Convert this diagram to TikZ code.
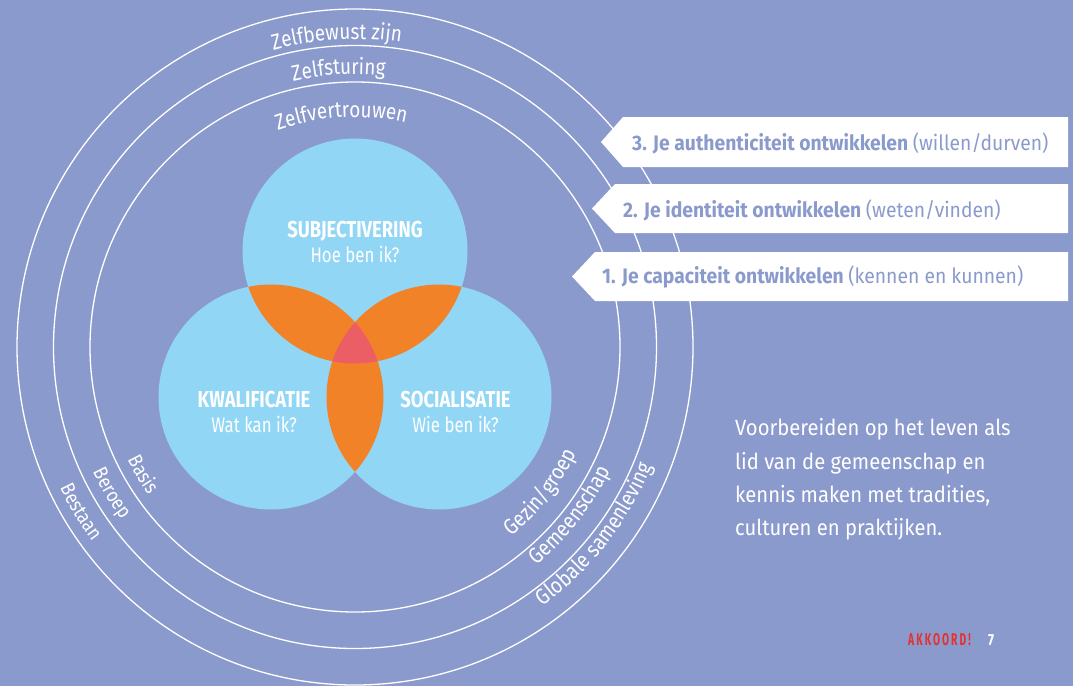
\documentclass[tikz,border=0pt]{standalone}
\usepackage{fontspec}
\setmainfont{Fira Sans}
\newfontfamily\cond{Fira Sans}[FakeStretch=0.8]
\newfontfamily\wide{Fira Sans}[FakeStretch=0.92]
\newfontfamily\arcf{Fira Sans}[FakeStretch=0.86]
\newfontfamily\akkf{Fira Sans}[FakeStretch=0.6]
\usetikzlibrary{decorations.text,calc}
\definecolor{bg}{HTML}{8B9ACC}
\definecolor{venn}{HTML}{92D6F5}
\definecolor{orng}{HTML}{F28228}
\definecolor{midred}{HTML}{EC5E66}
\definecolor{akk}{HTML}{E4302F}
\tikzset{
  ring/.style={draw=white, line width=1.3pt},
  vhead/.style={text=white, inner sep=0pt, anchor=base, font=\cond\bfseries\fontsize{23}{27}\selectfont},
  vsub/.style={text=white, inner sep=0pt, anchor=base, font=\cond\fontsize{21}{25}\selectfont},
  arrowbox/.style={fill=white, draw=none},
  boxtext/.style={text=bg, inner sep=0pt, anchor=base west, font=\wide\fontsize{21}{25}\selectfont},
  para/.style={text=white, inner sep=0pt, anchor=base west, font=\wide\fontsize{22}{26}\selectfont},
}
\begin{document}
\begin{tikzpicture}[x=1pt,y=1pt]
\useasboundingbox (0,0) rectangle (1073,-686);
\fill[bg] (0,0) rectangle (1073,-686);
\coordinate (C) at (355,-347);
% concentric rings
\draw[ring] (C) circle[radius=265];
\draw[ring] (C) circle[radius=301.5];
\draw[ring] (C) circle[radius=338];
% ring labels top
\path[decorate, decoration={text along path, text align=center, text color=white,
  text={|\arcf\fontsize{22}{26}\selectfont|Zelfbewust zijn}}]
  ($(C)+(123.4:308)$) arc[start angle=123.4, end angle=63.4, radius=308];
\path[decorate, decoration={text along path, text align=center, text color=white,
  text={|\arcf\fontsize{22}{26}\selectfont|Zelfsturing}}]
  ($(C)+(123.4:273)$) arc[start angle=123.4, end angle=63.4, radius=273];
\path[decorate, decoration={text along path, text align=center, text color=white,
  text={|\arcf\fontsize{22}{26}\selectfont|Zelfvertrouwen}}]
  ($(C)+(123.4:230)$) arc[start angle=123.4, end angle=63.4, radius=230];
% ring labels left
\path[decorate, decoration={text along path, text align=center, text color=white,
  text={|\arcf\fontsize{20}{24}\selectfont|Basis}}]
  ($(C)+(186:254)$) arc[start angle=186, end angle=236, radius=254];
\path[decorate, decoration={text along path, text align=center, text color=white,
  text={|\arcf\fontsize{20}{24}\selectfont|Beroep}}]
  ($(C)+(186:290.5)$) arc[start angle=186, end angle=236, radius=290.5];
\path[decorate, decoration={text along path, text align=center, text color=white,
  text={|\arcf\fontsize{20}{24}\selectfont|Bestaan}}]
  ($(C)+(186:327)$) arc[start angle=186, end angle=236, radius=327];
% ring labels right
\path[decorate, decoration={text along path, text align=center, text color=white,
  text={|\arcf\fontsize{22}{26}\selectfont|Gezin/groep}}]
  ($(C)+(-68:246)$) arc[start angle=-68, end angle=-8, radius=246];
\path[decorate, decoration={text along path, text align=center, text color=white,
  text={|\arcf\fontsize{22}{26}\selectfont|Gemeenschap}}]
  ($(C)+(-68:284)$) arc[start angle=-68, end angle=-8, radius=284];
\path[decorate, decoration={text along path, text align=center, text color=white,
  text={|\arcf\fontsize{22}{26}\selectfont|Globale samenleving}}]
  ($(C)+(-68:320)$) arc[start angle=-68, end angle=-8, radius=320];
% Venn
\coordinate (T) at (355,-251);
\coordinate (L) at (271,-397);
\coordinate (R) at (439,-397);
\def\vr{112.5}
\fill[venn] (T) circle[radius=\vr];
\fill[venn] (L) circle[radius=\vr];
\fill[venn] (R) circle[radius=\vr];
\begin{scope}
  \clip (T) circle[radius=\vr];
  \fill[orng] (L) circle[radius=\vr];
  \fill[orng] (R) circle[radius=\vr];
\end{scope}
\begin{scope}
  \clip (L) circle[radius=\vr];
  \fill[orng] (R) circle[radius=\vr];
\end{scope}
\begin{scope}
  \clip (T) circle[radius=\vr];
  \clip (L) circle[radius=\vr];
  \fill[midred] (R) circle[radius=\vr];
\end{scope}
\node[vhead] (subj) at (355,-237) {SUBJECTIVERING};
\node[vsub] (subjq) at (355,-262) {Hoe ben ik?};
\node[vhead] (kwal) at (254,-407) {KWALIFICATIE};
\node[vsub] (kwalq) at (254,-432) {Wat kan ik?};
\node[vhead] (soc) at (455.5,-407) {SOCIALISATIE};
\node[vsub] (socq) at (455.5,-432) {Wie ben ik?};
% arrow boxes
\fill[arrowbox] (601,-142) -- (623,-117) -- (1068,-117) -- (1068,-167) -- (623,-167) -- cycle;
\fill[arrowbox] (592,-208.5) -- (615,-184) -- (1068,-184) -- (1068,-233) -- (615,-233) -- cycle;
\fill[arrowbox] (572,-276.5) -- (595,-252) -- (1068,-252) -- (1068,-301) -- (595,-301) -- cycle;
\node[boxtext] (b3) at (632,-150) {\bfseries 3. Je authenticiteit ontwikkelen \mdseries(willen/durven)};
\node[boxtext] (b2) at (623,-217) {\bfseries 2. Je identiteit ontwikkelen \mdseries(weten/vinden)};
\node[boxtext] (b1) at (602,-283) {\bfseries 1. Je capaciteit ontwikkelen \mdseries(kennen en kunnen)};
% paragraph
\node[para] (p1) at (735,-435) {Voorbereiden op het leven als};
\node[para] (p2) at (735,-469) {lid van de gemeenschap en};
\node[para] (p3) at (735,-502) {kennis maken met tradities,};
\node[para] (p4) at (735,-535) {culturen en praktijken.};
% footer
\node[text=akk, inner sep=0pt, anchor=base west, font=\akkf\bfseries\fontsize{17}{19}\selectfont\addfontfeatures{LetterSpace=12}] (akk) at (908,-645) {AKKOORD!};
\node[text=white, inner sep=0pt, anchor=base west, font=\cond\bfseries\fontsize{16}{18}\selectfont] (pg) at (988,-645) {7};
\end{tikzpicture}
\end{document}
